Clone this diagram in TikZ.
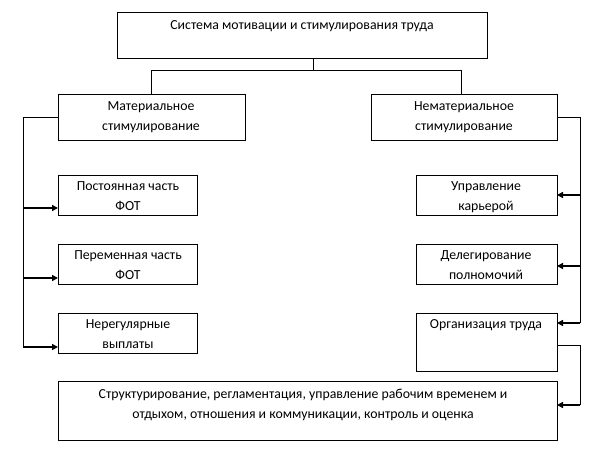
\documentclass[tikz,border=0pt]{standalone}
\usepackage{fontspec}
\setmainfont{Carlito}
\usetikzlibrary{arrows.meta}
\begin{document}
\begin{tikzpicture}[x=1pt,y=-1pt,
  box/.style={draw,thick,inner sep=0pt},
  lbl/.style={align=center,font=\fontsize{13.8}{20}\selectfont},
  ln/.style={thick},
  arr/.style={line width=1.6pt,-{Triangle[length=6pt,width=6pt]}}]
\useasboundingbox (0,0) rectangle (613,463);
\draw[box] (117,12) rectangle (487,58);
\node[lbl] (top) at (302,26) {Система мотивации и стимулирования труда};
\coordinate (tb) at (313,58);
\draw[box] (58,94) rectangle (245,140);
\node[lbl] (mat) at (151,117) {Материальное\\стимулирование};
\draw[box] (371,94) rectangle (557,140);
\node[lbl] (nmat) at (464,117) {Нематериальное\\стимулирование};
\draw[ln] (tb) -- (313,70) -- (151,70) -- (151,94);
\draw[ln] (313,70) -- (461,70) -- (461,94);
% left boxes
\draw[box] (58,175) rectangle (197,215);
\node[lbl,anchor=north] (l1) at (128,178) {Постоянная часть\\ФОТ};
\draw[box] (58,244) rectangle (197,284);
\node[lbl,anchor=north] (l2) at (128,247) {Переменная часть\\ФОТ};
\draw[box] (58,313) rectangle (197,353);
\node[lbl,anchor=north] (l3) at (128,316) {Нерегулярные\\выплаты};
\draw[ln] (58,117) -- (23,117) -- (23,347);
\draw[arr] (23,208) -- (58,208);
\draw[arr] (23,278) -- (58,278);
\draw[arr] (23,347) -- (58,347);
% right boxes
\draw[box] (416,175) rectangle (557,215);
\node[lbl,anchor=north] (r1) at (486,178) {Управление\\карьерой};
\draw[box] (416,244) rectangle (557,284);
\node[lbl,anchor=north] (r2) at (486,247) {Делегирование\\полномочий};
\draw[box] (416,313) rectangle (557,371);
\node[lbl,anchor=north] (r3) at (486,316) {Организация труда};
\draw[ln] (557,117) -- (580,117) -- (580,323);
\draw[arr] (580,195) -- (557,195);
\draw[arr] (580,266) -- (557,266);
\draw[arr] (580,323) -- (557,323);
% bottom
\draw[box] (58,381) rectangle (557,440);
\node[lbl] (bot) at (303,405) {Структурирование, регламентация, управление рабочим временем и\\отдыхом, отношения и коммуникации, контроль и оценка};
\draw[ln] (557,345) -- (580,345) -- (580,405);
\draw[arr] (580,405) -- (557,405);
\end{tikzpicture}
\end{document}
